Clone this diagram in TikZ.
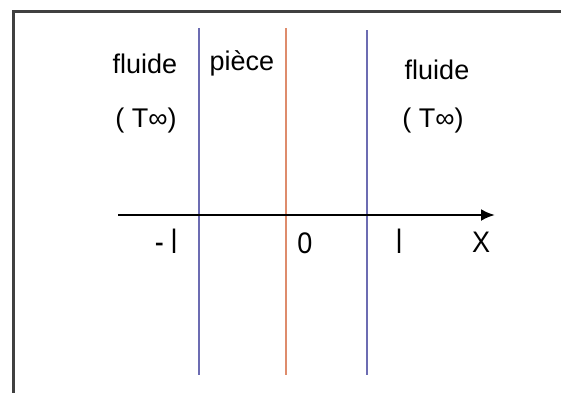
\documentclass[tikz,border=0pt]{standalone}
\usepackage{fontspec}
\setmainfont{Liberation Sans}
\usetikzlibrary{arrows.meta}

\begin{document}
\begin{tikzpicture}[x=0.5pt,y=-0.5pt,
  lbl/.style={font=\fontsize{13.5}{16}\selectfont,inner sep=0pt,anchor=base},
  paroi/.style={line width=0.7pt}]
\definecolor{cbord}{RGB}{108,108,178}\definecolor{cmil}{RGB}{222,140,108}
\colorlet{ccadre}{black!75}
\useasboundingbox (0,0) rectangle (561,392);
% frame (only left and top edges fall inside the picture)
\draw[ccadre,line width=1.5pt] (13,400)--(13,11)--(570,11);
% walls of the part and its mid-plane
\coordinate (gh) at (199,28);  \coordinate (gb) at (199,375);
\coordinate (mh) at (286,28);  \coordinate (mb) at (286,375);
\coordinate (dh) at (367,30);  \coordinate (db) at (367,375);
\draw[paroi,cbord] (gh)--(gb);
\draw[paroi,cmil] (mh)--(mb);
\draw[paroi,cbord] (dh)--(db);
% x axis
\coordinate (xa) at (118,215); \coordinate (xb) at (495,215);
\draw[line width=1.3pt,-{Latex[length=7pt,width=6pt]}] (xa)--(xb);
% regions
\node[lbl] (fluG) at (145,73) {fluide};
\node[lbl] (tG) at (146,127) {( T∞)};
\node[lbl] (piece) at (242,70) {pièce};
\node[lbl] (fluD) at (437,79) {fluide};
\node[lbl] (tD) at (433,127) {( T∞)};
% abscissae (taller, narrow glyphs as in the sketch)
\node[lbl,yscale=1.25] (moinsl) at (166,253) {- l};
\node[lbl,yscale=1.1] (zero) at (305,253) {0};
\node[lbl,yscale=1.25] (plusl) at (399,253) {l};
\node[lbl,yscale=1.1] (ax) at (481,252) {X};
\end{tikzpicture}
\end{document}
